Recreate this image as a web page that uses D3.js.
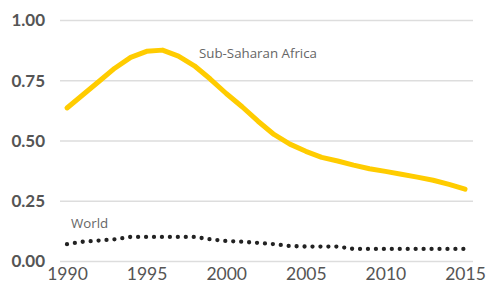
<!DOCTYPE html>
<html><head><meta charset="utf-8">
<script src="https://cdn.jsdelivr.net/npm/d3@7"></script>
<style>body{margin:0;background:#fff}svg{display:block}</style>
</head><body><div id="c"></div>
<script>
const years = d3.range(1990, 2016);
const ssa = [0.635,0.69,0.745,0.80,0.845,0.87,0.875,0.85,0.81,0.755,0.695,0.64,0.58,0.525,0.485,0.455,0.43,0.415,0.398,0.383,0.372,0.36,0.348,0.335,0.318,0.298];
const world = [0.07,0.08,0.085,0.09,0.1,0.1,0.1,0.1,0.1,0.09,0.083,0.08,0.075,0.07,0.062,0.06,0.06,0.06,0.05,0.05,0.05,0.05,0.05,0.05,0.05,0.05];
const yTicks = [0, 0.25, 0.5, 0.75, 1.0];
const xTicks = [1990, 1995, 2000, 2005, 2010, 2015];

const W = 487, H = 287;
const svg = d3.select("#c").append("svg").attr("width", W).attr("height", H);
const x = d3.scaleLinear().domain([1990, 2015]).range([67, 465]);
const y = d3.scaleLinear().domain([0, 1]).range([261, 20]);

const yAxis = d3.axisLeft(y).tickValues(yTicks).tickFormat(d3.format(".2f")).tickSize(-(473-60)).tickPadding(15);
const gy = svg.append("g").attr("transform", "translate(60,0)").call(yAxis);
gy.select(".domain").remove();
gy.selectAll(".tick line").attr("stroke", "#dddddd").attr("stroke-width", 1.5);
gy.selectAll(".tick text").attr("fill", "#555").attr("font-family", "Lato, 'Open Sans', sans-serif")
  .attr("font-weight", "bold").attr("font-size", 17).attr("dy", "0.35em");

const xAxis = d3.axisBottom(x).tickValues(xTicks).tickFormat(d3.format("d")).tickSize(0).tickPadding(0);
const gx = svg.append("g").attr("transform", "translate(0,268)").call(xAxis);
gx.select(".domain").remove();
gx.selectAll(".tick text").attr("fill", "#555").attr("font-family", "Lato, 'Open Sans', sans-serif")
  .attr("font-size", 17.5).attr("dy", "0.71em");

const line = d3.line().x((d,i) => x(years[i])).y(d => y(d)).curve(d3.curveLinear);

svg.append("path").datum(ssa).attr("d", line).attr("fill", "none")
  .attr("stroke", "#FFCC00").attr("stroke-width", 5).attr("stroke-linecap", "round").attr("stroke-linejoin", "round");

svg.append("path").datum(world).attr("d", line).attr("fill", "none")
  .attr("stroke", "#222").attr("stroke-width", 4.3).attr("stroke-linecap", "round")
  .attr("stroke-dasharray", "0,7.95");

svg.append("text").attr("x", 199).attr("y", 58).text("Sub-Saharan Africa")
  .attr("font-family", "'Open Sans', sans-serif").attr("font-size", 13.3).attr("fill", "#666");
svg.append("text").attr("x", 71).attr("y", 228).text("World")
  .attr("font-family", "'Open Sans', sans-serif").attr("font-size", 13.3).attr("fill", "#666");
</script></body></html>
